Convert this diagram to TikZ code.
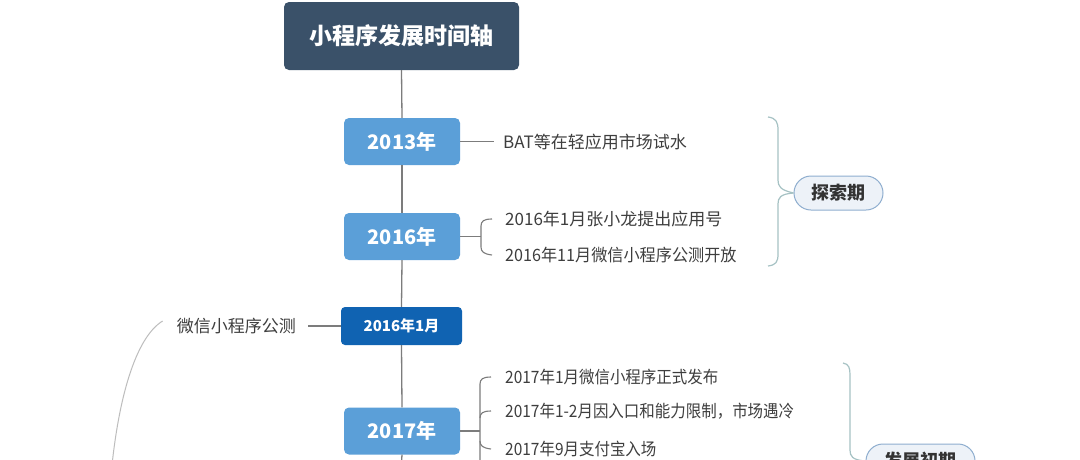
\documentclass[tikz,border=0pt]{standalone}
\usepackage{fontspec}
\setmainfont{Noto Sans CJK SC}
\newfontfamily\narrowcjk[FakeStretch=0.91]{Noto Sans CJK SC}
\newfontfamily\midcjk[FakeStretch=0.95]{Noto Sans CJK SC}
\begin{document}
\begin{tikzpicture}[x=1pt,y=-1pt,
  every node/.style={font=\fontsize{17}{20}\selectfont},
  title/.style={fill=titlec,rounded corners=5pt,minimum width=235pt,minimum height=68pt,text=white,font=\fontsize{23}{26}\selectfont\bfseries},
  yearbox/.style={fill=yearc,rounded corners=5pt,minimum width=116pt,minimum height=47pt,text=white,font=\fontsize{20}{24}\selectfont\bfseries},
  monthbox/.style={fill=monthc,rounded corners=4pt,minimum width=121pt,minimum height=38pt,text=white,font=\fontsize{15}{18}\selectfont\bfseries},
  item/.style={anchor=west,inner sep=0pt,text=textc},
  narrowitem/.style={item,font=\fontsize{17}{20}\narrowcjk},
  miditem/.style={item,font=\fontsize{17}{20}\midcjk},
  axis/.style={draw=linec,line width=1.3pt},
  branch/.style={draw=linec,line width=1.1pt},
  brace/.style={draw=bracec,line width=1.2pt},
  phase/.style={draw=pillb,fill=pillf,line width=1pt,rounded corners=17pt,minimum height=34pt,text=phasec,font=\fontsize{18}{21}\selectfont\bfseries},
  curvec/.style={draw=curvecol,line width=1pt}
]
\definecolor{titlec}{HTML}{3A5169}
\definecolor{yearc}{HTML}{5B9FD8}
\definecolor{monthc}{HTML}{1063B2}
\definecolor{linec}{HTML}{7C7C7C}
\definecolor{textc}{HTML}{3E3E3E}
\definecolor{bracec}{HTML}{A6C2C4}
\definecolor{pillb}{HTML}{8FAECF}
\definecolor{pillf}{HTML}{EDF2F8}
\definecolor{phasec}{HTML}{333333}
\definecolor{curvecol}{HTML}{BDBDBD}
\useasboundingbox (0,0) rectangle (1080,459);
\clip (0,0) rectangle (1080,459);
\fill[white] (0,0) rectangle (1080,459);

% main nodes
\node[title] (title) at (401.5,36) {小程序发展时间轴};
\node[yearbox] (y2013) at (402,141.5) {2013年};
\node[yearbox] (y2016) at (402,236.5) {2016年};
\node[monthbox] (m2016) at (401.5,326) {2016年1月};
\node[yearbox] (y2017) at (402,431) {2017年};
\coordinate (axend) at (401,470);

% axis
\draw[axis] (title.south) -- (y2013.north);
\draw[axis] (y2013.south) -- (y2016.north);
\draw[axis] (y2016.south) -- (m2016.north);
\draw[axis] (m2016.south) -- (y2017.north);
\draw[axis] (y2017.south) -- (axend);

% 2013
\node[item] (t1) at (503,142) {BAT等在轻应用市场试水};
\draw[branch] (y2013.east) -- ([xshift=-9pt]y2013.east -| t1.west);

% 2016
\node[item] (t2) at (505,219) {2016年1月张小龙提出应用号};
\node[miditem] (t3) at (505,255) {2016年11月微信小程序公测开放};
\coordinate (b16) at (481,236.5);
\draw[branch] (y2016.east) -- (b16);
\draw[branch] ([xshift=-13pt]t2.west) .. controls (484,219) and (481,221) .. (481,226) -- (481,247) .. controls (481,252) and (484,254) .. ([xshift=-13pt]t3.west);

% 2016年1月
\node[item,anchor=east] (t4) at (296,326) {微信小程序公测};
\draw[branch] (m2016.west) -- ([xshift=12pt]m2016.west -| t4.east);
\coordinate (cend) at (111,475);
\draw[curvec] ([xshift=-14pt,yshift=5pt]t4.west) .. controls (135,338) and (118,400) .. (cend);

% 2017
\node[narrowitem] (t5) at (505,377) {2017年1月微信小程序正式发布};
\node[narrowitem] (t6) at (505,411) {2017年1-2月因入口和能力限制，市场遇冷};
\node[narrowitem] (t7) at (505,449) {2017年9月支付宝入场};
\coordinate (b17) at (480,431);
\coordinate (b17end) at (480,470);
\draw[branch] (y2017.east) -- (b17);
\draw[branch] ([xshift=-14pt]t5.west) .. controls (483,377) and (480,379) .. (480,384) -- (b17end);
\draw[branch] (480,418) .. controls (480,413) and (483,411) .. ([xshift=-14pt]t6.west);
\draw[branch] (480,441) .. controls (480,446) and (483,448) .. ([xshift=-14pt]t7.west);

% phases
\node[phase,minimum width=89pt] (p1) at (838.5,193) {探索期};
\draw[brace] (768,117) .. controls (776,118) and (778,122) .. (778,130) -- (778,180) .. controls (778,186) and (780,190) .. (p1.west);
\draw[brace] (p1.west) .. controls (780,194) and (778,198) .. (778,204) -- (778,254) .. controls (778,262) and (776,265) .. (768,266);

\node[phase,minimum width=109pt] (p2) at (920.5,461) {发展初期};
\draw[brace] (843,363) .. controls (849,364) and (850,368) .. (850,375) -- (850,450) .. controls (850,456) and (852,460) .. (p2.west);
\end{tikzpicture}
\end{document}
